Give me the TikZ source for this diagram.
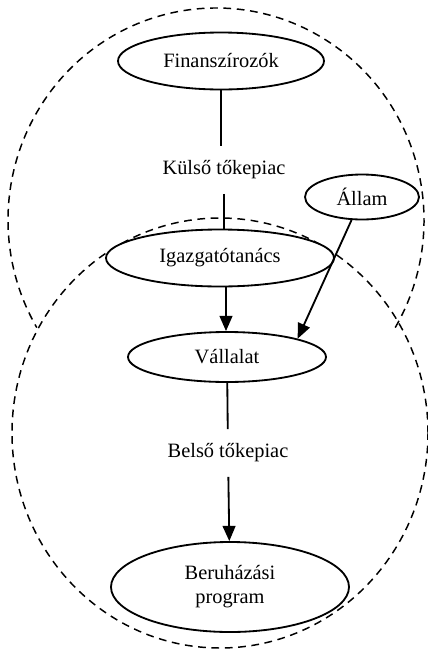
\documentclass[tikz,border=0pt]{standalone}
\usepackage{fontspec}
\setmainfont{Liberation Serif}
\usetikzlibrary{shapes.geometric,arrows.meta}

\begin{document}
\begin{tikzpicture}[
        >={Triangle[length=3.8mm,width=3.2mm]},
        font=\fontsize{14.5}{17}\selectfont,
        every node/.style={align=center},
        actor/.style={draw, ellipse, line width=1.3pt, fill=white, inner sep=0pt},
        market/.style={inner xsep=2pt, inner ysep=0.36cm},
        link/.style={line width=1.3pt},
        border/.style={line width=1.05pt, dash pattern=on 5.5pt off 4pt}
    ]

        % --- Rahmen ---
        \useasboundingbox (0,0) rectangle (10.675,-16.275);

        % --- Koordinaten der Kreise ---
        \def\upx{5.4}
        \def\upy{-5.5}
        \def\lowx{5.5}
        \def\lowy{-10.825}

        % --- Gestrichelte Kreise ---
        % oben: nur der Teil ausserhalb des unteren Kreises
        \draw[border] (\upx,\upy) ++(-30.5:5.2 and 5.3)
            arc[start angle=-30.5, end angle=210.5, x radius=5.2, y radius=5.3];
        % unten: ganzer Kreis
        \draw[border] (\lowx,\lowy) ellipse[x radius=5.2, y radius=5.375];

        % --- Knoten ---
        \node[actor, minimum width=5.15cm, minimum height=1.425cm]
            (fin) at (5.525,-1.525) {Finanszírozók};
        \node[market] (kulso) at (5.6,-4.25) {Külső tőkepiac};
        \node[actor, minimum width=2.85cm, minimum height=1.125cm]
            (allam) at (9.05,-4.925) {Állam};
        \node[actor, minimum width=5.7cm, minimum height=1.425cm]
            (igazg) at (5.5,-6.45) {Igazgatótanács};
        \node[actor, minimum width=4.95cm, minimum height=1.25cm]
            (vall) at (5.675,-8.925) {Vállalat};
        \node[market] (belso) at (5.7,-11.325) {Belső tőkepiac};
        \node[actor, minimum width=5.95cm, minimum height=2.25cm]
            (beruh) at (5.75,-14.675) {Beruházási\\program};

        % --- Verbindungen ---
        \draw[link] (fin) -- (fin |- kulso.north);
        \draw[link] (kulso.south) -- (kulso.south |- igazg.north);
        \draw[->, link] (igazg.south -| 5.65,0) -- (vall.north -| 5.65,0);
        \draw[->, link] (allam) -- (vall.north east);
        \draw[link] (vall) -- (belso);
        \draw[->, link] (belso) -- (beruh);

    \end{tikzpicture}
\end{document}
